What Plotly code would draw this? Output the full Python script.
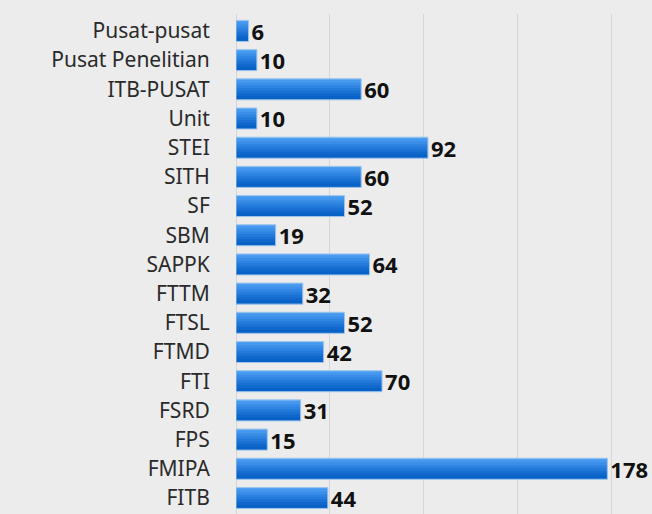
import plotly.graph_objects as go

categories = ["Pusat-pusat", "Pusat Penelitian", "ITB-PUSAT", "Unit", "STEI", "SITH", "SF",
              "SBM", "SAPPK", "FTTM", "FTSL", "FTMD", "FTI", "FSRD", "FPS", "FMIPA", "FITB"]
values = [6, 10, 60, 10, 92, 60, 52, 19, 64, 32, 52, 42, 70, 31, 15, 178, 44]

# gradient bands (top light -> bottom dark)
band_colors = ["#50a2f3", "#4598ed", "#3a8ee7", "#2f84e1", "#247ada", "#1a71d3", "#1068cc", "#0862c6"]
bar_w = 0.72
n = len(band_colors)
overlap = 0.04

fig = go.Figure()
for i, c in enumerate(band_colors):
    extra = overlap if i > 0 else 0
    fig.add_trace(go.Bar(
        y=categories, x=values, orientation="h",
        width=bar_w / n + extra, offset=-bar_w / 2 + i * bar_w / n - extra,
        marker=dict(color=c, line=dict(width=0)),
        hoverinfo="skip", showlegend=False,
    ))

fig.add_trace(go.Bar(
    y=categories, x=values, orientation="h",
    width=bar_w, offset=-bar_w / 2,
    marker=dict(color="rgba(0,0,0,0)", line=dict(color="#9ec4ec", width=1)),
    text=[str(v) for v in values], textposition="outside",
    textfont=dict(family="Noto Sans", size=22, color="#111111", weight="bold"),
    constraintext="none", cliponaxis=False, showlegend=False,
))

fig.update_layout(
    width=652, height=514,
    margin=dict(l=236, r=0, t=14, b=0),
    paper_bgcolor="#ececec", plot_bgcolor="#ececec",
    barmode="overlay",
    xaxis=dict(range=[0, 199.4], dtick=45, tick0=0, showticklabels=False,
               showgrid=True, gridcolor="#d6d6d6", gridwidth=1,
               zeroline=True, zerolinecolor="#d6d6d6", zerolinewidth=1, fixedrange=True),
    yaxis=dict(type="category", range=[16.55, -0.58], showgrid=False,
               ticks="outside", ticklen=0, ticklabelstandoff=21,
               tickfont=dict(family="Noto Sans", size=21, color="#2a2a2a"), fixedrange=True),
)

fig.write_html("out.html", config={"displayModeBar": False},
               post_script="document.body.style.margin='0';document.body.style.overflow='hidden';")
